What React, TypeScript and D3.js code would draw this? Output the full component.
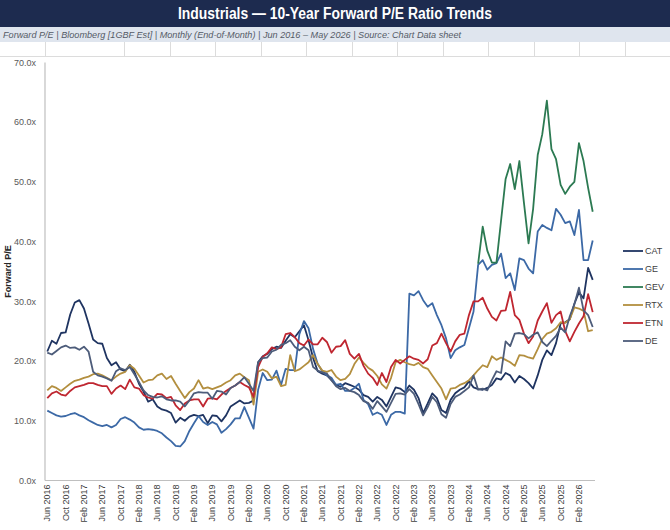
import React from "react";
import * as d3 from "d3";

// Forward P/E, monthly end-of-month, Jun 2016 – May 2026 (120 months)
const tickers = ["CAT", "GE", "GEV", "RTX", "ETN", "DE"];

const CAT = [21.6,23.4,22.9,24.7,24.8,27.8,29.8,30.2,28.8,26.3,
23.6,23.0,22.9,20.5,19.3,19.8,18.6,18.3,19.4,18.2,
16.2,14.9,13.2,13.6,12.4,11.9,11.7,11.3,9.7,10.5,
10.0,10.7,11.0,10.8,11.0,9.6,10.9,10.8,9.9,10.9,
12.4,12.9,13.4,12.9,13.0,13.4,19.8,20.8,21.2,22.0,
22.4,22.2,23.4,24.5,24.0,25.0,26.0,23.5,20.5,18.3,
17.9,17.6,16.8,16.0,15.7,16.3,16.0,15.7,15.2,14.3,
14.0,13.2,14.0,13.5,12.4,14.0,15.6,15.4,14.8,15.9,
15.2,13.8,11.3,12.9,14.6,13.8,11.8,11.3,13.5,14.6,
15.2,15.6,16.6,15.6,15.3,15.2,15.5,16.0,17.1,16.9,
18.0,17.6,16.4,17.5,17.0,16.3,15.4,17.6,20.2,21.8,
21.0,23.0,26.3,26.5,27.0,29.6,31.5,30.5,35.6,33.6];

const GE = [11.7,11.3,10.9,10.7,10.8,11.1,11.3,10.9,10.6,10.1,
9.7,9.3,9.1,9.3,8.9,9.3,10.3,10.6,10.2,9.7,
8.9,8.5,8.6,8.5,8.3,7.9,7.2,6.6,5.8,5.7,
6.6,8.3,9.6,10.8,9.8,9.3,9.8,9.4,8.0,8.6,
9.4,10.4,10.4,12.3,10.5,8.7,15.2,18.0,16.8,16.9,
18.4,16.0,18.7,18.5,18.5,24.5,26.7,25.5,22.0,19.5,
18.3,17.6,17.2,16.0,16.2,15.0,15.0,15.5,16.2,13.5,
12.8,11.0,11.4,11.0,9.3,11.0,11.5,11.5,11.2,31.3,
31.0,31.7,30.2,29.1,29.7,27.7,26.0,23.8,20.5,21.8,
22.3,22.7,25.5,28.3,36.1,36.9,35.3,36.1,36.4,38.0,
33.9,34.7,31.9,37.2,36.9,35.5,34.7,41.7,42.8,42.3,
41.9,45.5,44.5,43.1,43.4,41.1,45.3,36.9,36.9,40.2];

// GE Vernova trades from Apr 2024 (month index 94)
const GEV_START = 94;
const GEV = [36.3,42.5,38.5,36.5,36.5,43.5,50.5,53.0,48.8,53.5,
46.5,39.7,45.5,54.5,58.0,63.6,55.5,53.8,49.5,48.0,
49.2,50.0,56.5,53.5,49.0,45.0];

const RTX = [15.1,15.8,15.5,15.0,15.6,16.2,16.7,16.9,17.2,17.4,
17.8,17.9,17.6,17.2,16.8,17.4,17.9,18.2,19.3,18.7,
17.6,16.4,16.8,16.9,17.6,17.9,17.0,17.5,16.2,15.0,
13.8,14.8,15.4,16.8,15.4,15.6,15.3,15.6,15.9,16.4,
16.8,17.6,17.9,17.3,16.8,12.7,18.2,18.6,18.2,17.1,
17.4,15.8,16.0,21.0,18.3,18.6,19.2,19.8,21.0,19.5,
18.4,18.2,18.5,17.4,16.8,17.0,17.8,19.5,20.6,19.7,
18.9,18.4,17.5,16.1,15.4,17.2,19.8,20.2,19.8,19.5,
19.3,19.7,19.0,18.7,17.6,16.5,15.4,13.6,15.4,15.5,
16.0,16.3,16.8,17.6,18.5,19.3,19.0,20.8,20.2,20.6,
20.2,19.8,19.2,21.0,20.9,20.6,20.4,22.0,23.7,24.6,
24.9,25.5,26.5,26.4,27.0,29.0,28.8,28.4,25.0,25.2];

const ETN = [13.8,14.6,14.9,14.4,14.2,15.0,15.6,15.8,16.0,16.3,
16.3,16.0,15.8,15.8,14.5,15.4,15.9,15.3,16.9,15.6,
15.4,14.3,13.9,13.7,14.5,14.4,13.8,14.0,12.6,11.8,
12.9,13.4,13.6,13.6,12.4,13.7,13.8,13.6,14.4,15.0,
15.5,15.9,16.5,16.0,15.6,14.0,19.0,20.7,21.3,22.3,
22.0,22.3,24.5,24.7,24.0,23.0,22.6,23.6,22.8,22.8,
23.9,23.2,21.4,22.4,22.5,23.5,21.2,20.4,21.2,19.2,
17.9,17.2,16.0,18.0,16.5,19.0,20.2,19.6,20.2,20.8,
20.4,20.2,19.6,20.3,22.6,23.0,24.6,23.0,21.6,23.3,
24.4,24.6,27.7,30.0,30.0,30.6,28.8,27.4,26.8,28.4,
28.5,31.6,27.7,26.9,24.6,23.0,24.1,26.8,28.3,29.7,
26.4,27.7,28.3,25.0,23.3,24.9,26.3,27.5,31.2,28.2];

const DE = [21.4,21.1,21.7,22.3,22.6,22.2,22.3,21.9,22.4,21.6,
18.2,17.6,17.4,17.1,16.7,18.3,18.8,18.5,19.0,17.8,
16.5,15.1,14.3,14.0,13.9,14.1,13.6,13.4,13.4,13.2,
12.4,13.4,14.6,14.8,14.7,14.7,13.7,15.0,14.9,14.4,
15.5,15.9,16.5,17.3,16.2,15.0,19.8,20.5,20.6,21.6,
21.9,22.7,23.0,23.5,22.4,21.8,22.4,21.8,19.0,18.4,
18.1,17.9,16.8,15.8,15.3,15.5,15.0,14.8,14.3,13.3,
13.0,12.0,13.3,12.4,11.5,13.0,14.5,14.6,14.4,15.3,
14.5,12.8,10.9,12.3,14.0,13.1,11.1,10.5,12.8,14.0,
14.4,15.0,15.6,17.6,15.2,15.4,15.1,16.8,18.3,18.0,
23.3,22.5,24.6,24.7,24.5,23.8,24.4,24.8,23.2,22.5,
23.4,24.2,25.6,24.8,27.5,29.5,32.3,28.5,27.7,25.7];

const yTicks = [0, 10, 20, 30, 40, 50, 60, 70];

const colors: Record<string, string> = {
  CAT: "#1f3461",
  GE: "#3c69a6",
  GEV: "#2c7a52",
  RTX: "#b38f3f",
  ETN: "#bf2630",
  DE: "#4d5c7a",
};

const months = d3.timeMonth.range(new Date(2016, 5, 1), new Date(2026, 5, 1));
const fmtMonth = d3.timeFormat("%b %Y");

const W = 670;
const H = 530;
const plot = { left: 45, right: 595, top: 62.5, bottom: 480.5 };

const seriesValues: Record<string, (number | null)[]> = {
  CAT,
  GE,
  GEV: months.map((_, i) => (i >= GEV_START ? GEV[i - GEV_START] : null)),
  RTX,
  ETN,
  DE,
};

const gridCols = [45, 124, 170, 215, 261, 306, 352, 397, 443, 488, 534, 579, 625];

export default function App() {
  const x = d3
    .scalePoint<number>()
    .domain(months.map((_, i) => i))
    .range([plot.left, plot.right])
    .padding(0.5);
  const y = d3.scaleLinear().domain([0, 70]).range([plot.bottom, plot.top]);

  const line = d3
    .line<number | null>()
    .defined((d) => d != null)
    .x((_, i) => x(i) as number)
    .y((d) => y(d as number));

  const font = "'Liberation Sans', Arial, sans-serif";

  return (
    <svg
      width={W}
      height={H}
      style={{ position: "absolute", left: 0, top: 0, display: "block", background: "#fff" }}
      fontFamily={font}
    >
      <rect x={0} y={0} width={W} height={H} fill="#ffffff" />
      {/* header */}
      <rect x={0} y={0} width={W} height={27} fill="#1d2b4f" />
      <text
        x={W / 2}
        y={19}
        textAnchor="middle"
        fill="#ffffff"
        fontWeight="bold"
        fontSize={16}
        textLength={314}
        lengthAdjust="spacingAndGlyphs"
      >
        Industrials — 10-Year Forward P/E Ratio Trends
      </text>
      <rect x={0} y={27} width={W} height={15} fill="#dfe5ee" />
      <text
        x={3}
        y={37.5}
        fill="#555b66"
        fontStyle="italic"
        fontSize={8.5}
        textLength={458}
        lengthAdjust="spacingAndGlyphs"
      >
        Forward P/E | Bloomberg [1GBF Est] | Monthly (End-of-Month) | Jun 2016 – May 2026 | Source: Chart Data sheet
      </text>
      {/* sheet row under the header */}
      <line x1={0} x2={W} y1={56.5} y2={56.5} stroke="#dcdcdc" strokeWidth={1} />
      {gridCols.map((gx) => (
        <line key={gx} x1={gx + 0.5} x2={gx + 0.5} y1={42} y2={57} stroke="#dcdcdc" strokeWidth={1} />
      ))}

      {/* axes */}
      <line x1={plot.left} x2={plot.left} y1={plot.top} y2={plot.bottom} stroke="#bfbfbf" strokeWidth={1.2} />
      <line x1={plot.left} x2={plot.right} y1={plot.bottom} y2={plot.bottom} stroke="#bfbfbf" strokeWidth={1.2} />
      {yTicks.map((t) => (
        <text key={t} x={36} y={y(t)} dy="0.35em" textAnchor="end" fontSize={9} fill="#595959">
          {t.toFixed(1)}x
        </text>
      ))}
      <text
        transform={`translate(11, ${(plot.top + plot.bottom) / 2}) rotate(-90)`}
        textAnchor="middle"
        fontSize={9}
        fontWeight="bold"
        fill="#262626"
      >
        Forward P/E
      </text>
      {months.map((m, i) =>
        i % 4 === 0 ? (
          <text
            key={i}
            transform={`translate(${x(i)}, ${plot.bottom + 4}) rotate(-90)`}
            textAnchor="end"
            dy="0.35em"
            fontSize={9}
            fill="#404040"
          >
            {fmtMonth(m)}
          </text>
        ) : null
      )}

      {/* series */}
      {tickers.map((t) => (
        <path
          key={t}
          d={line(seriesValues[t]) || ""}
          fill="none"
          stroke={colors[t]}
          strokeWidth={1.8}
          strokeLinejoin="round"
        />
      ))}

      {/* legend */}
      {tickers.map((t, k) => {
        const ly = 251 + k * 18;
        return (
          <g key={t}>
            <line x1={623} x2={643} y1={ly} y2={ly} stroke={colors[t]} strokeWidth={1.8} />
            <text x={645} y={ly} dy="0.35em" fontSize={9} fill="#404040">
              {t}
            </text>
          </g>
        );
      })}
    </svg>
  );
}
